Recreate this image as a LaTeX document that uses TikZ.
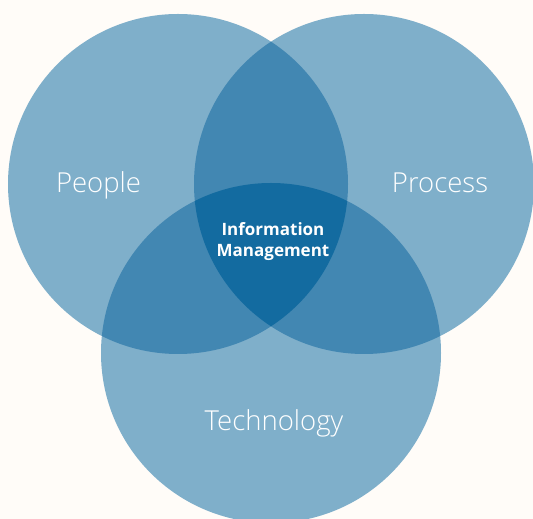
\documentclass[tikz,border=0pt]{standalone}
\usepackage{fontspec}
\setmainfont{Open Sans}
\newfontfamily\thinfont{Open Sans Light}
\usepackage{tikz}
\usetikzlibrary{positioning}
\definecolor{bgcream}{HTML}{FFFCF8}
\definecolor{ringlight}{HTML}{7FAFCA}
\definecolor{ringmid}{HTML}{4287B2}
\definecolor{ringdark}{HTML}{136BA0}

\begin{document}
\begin{tikzpicture}[x=1pt,y=1pt,
      ring/.style={fill=ringlight},
      tag/.style={text=white,anchor=base,font=\thinfont\fontsize{27.5}{32}\selectfont},
      core/.style={text=white,anchor=base,align=center,font=\bfseries\fontsize{17}{21}\selectfont}]
        \useasboundingbox (0,0) rectangle (533,519);
        \fill[bgcream] (0,0) rectangle (533,519);
        \coordinate (people) at (178,335);
        \coordinate (process) at (364,335);
        \coordinate (tech) at (271,166);
        % the three sets
        \fill[ring] (people) circle (170);
        \fill[ring] (process) circle (170);
        \fill[ring] (tech) circle (170);
        % pairwise overlaps
        \begin{scope}
            \clip (people) circle (170);
            \fill[ringmid] (process) circle (170);
            \fill[ringmid] (tech) circle (170);
        \end{scope}
        \begin{scope}
            \clip (process) circle (170);
            \fill[ringmid] (tech) circle (170);
        \end{scope}
        % common part
        \begin{scope}
            \clip (people) circle (170);
            \clip (process) circle (170);
            \fill[ringdark] (tech) circle (170);
        \end{scope}
        \node[tag] (peopletxt) at (98.5,326) {People};
        \node[tag] (processtxt) at (440,326) {Process};
        \node[tag] (techtxt) at (274,88) {Technology};
        \node[core] (infotxt) at (273,262) {Information\\Management};
    \end{tikzpicture}
\end{document}
